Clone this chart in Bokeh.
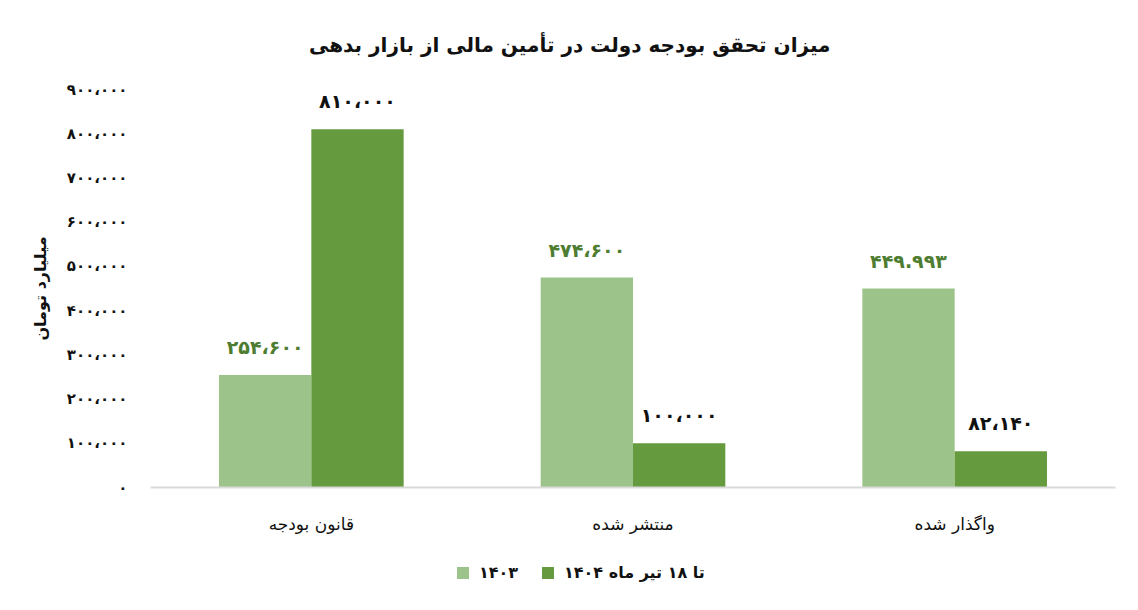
from bokeh.plotting import figure
from bokeh.layouts import column
from bokeh.models import ColumnDataSource, FactorRange, Legend, LegendItem, FixedTicker, Range1d, Title
from bokeh.transform import dodge
from bokeh.core.properties import value
from bokeh.embed import file_html
from bokeh.resources import INLINE

title_text = "میزان تحقق بودجه دولت در تأمین مالی از بازار بدهی"
y_axis_title = "میلیارد تومان"
categories = ["قانون بودجه", "منتشر شده", "واگذار شده"]
series_names = ["۱۴۰۳", "تا ۱۸ تیر ماه ۱۴۰۴"]
values_1403 = [254600, 474600, 449993]
values_1404 = [810000, 100000, 82140]
labels_1403 = ["۲۵۴،۶۰۰", "۴۷۴،۶۰۰", "۴۴۹.۹۹۳"]
labels_1404 = ["۸۱۰،۰۰۰", "۱۰۰،۰۰۰", "۸۲،۱۴۰"]
y_ticks = [0, 100000, 200000, 300000, 400000, 500000, 600000, 700000, 800000, 900000]
y_tick_labels = ["۰", "۱۰۰،۰۰۰", "۲۰۰،۰۰۰", "۳۰۰،۰۰۰", "۴۰۰،۰۰۰",
                 "۵۰۰،۰۰۰", "۶۰۰،۰۰۰", "۷۰۰،۰۰۰", "۸۰۰،۰۰۰", "۹۰۰،۰۰۰"]

FONT = "DejaVu Sans"
LIGHT = "#9cc389"
DARK = "#659a3e"
LIGHT_LABEL = "#4e7d32"

source = ColumnDataSource(data=dict(
    cat=categories,
    v1=values_1403,
    v2=values_1404,
    l1=labels_1403,
    l2=labels_1404,
))

p = figure(
    width=1130, height=550,
    x_range=FactorRange(*categories, range_padding=0),
    y_range=Range1d(0, 900000),
    output_backend="svg", toolbar_location=None,
    min_border_left=150, min_border_right=15, min_border_top=89, min_border_bottom=63,
)
p.outline_line_color = None
p.xgrid.grid_line_color = None
p.ygrid.grid_line_color = None

bw = 0.287
p.vbar(x=dodge("cat", -bw / 2, range=p.x_range), top="v1", width=bw, source=source,
       fill_color=LIGHT, line_color=None)
p.vbar(x=dodge("cat", bw / 2, range=p.x_range), top="v2", width=bw, source=source,
       fill_color=DARK, line_color=None)

p.text(x=dodge("cat", -bw / 2, range=p.x_range), y="v1", text="l1", source=source,
       text_align="center", text_baseline="middle", y_offset=-28,
       text_font=value(FONT), text_font_size="19px", text_font_style="bold",
       text_color=LIGHT_LABEL)
p.text(x=dodge("cat", bw / 2, range=p.x_range), y="v2", text="l2", source=source,
       text_align="center", text_baseline="middle", y_offset=-28,
       text_font=value(FONT), text_font_size="19px", text_font_style="bold",
       text_color="#111111")

# y axis
p.yaxis.ticker = FixedTicker(ticks=y_ticks)
p.yaxis.major_label_overrides = {t: s for t, s in zip(y_ticks, y_tick_labels)}
p.yaxis.axis_line_color = None
p.yaxis.major_tick_line_color = None
p.yaxis.minor_tick_line_color = None
p.yaxis.major_tick_out = 0
p.yaxis.major_label_standoff = 23
p.yaxis.major_label_text_font = FONT
p.yaxis.major_label_text_font_size = "15px"
p.yaxis.major_label_text_font_style = "bold"
p.yaxis.major_label_text_color = "#111111"
p.yaxis.axis_label = y_axis_title
p.yaxis.axis_label_text_font = FONT
p.yaxis.axis_label_text_font_size = "16px"
p.yaxis.axis_label_text_font_style = "bold"
p.yaxis.axis_label_text_color = "#111111"
p.yaxis.axis_label_standoff = 14

# x axis
p.xaxis.axis_line_color = "#d9d9d9"
p.xaxis.axis_line_width = 2
p.xaxis.major_tick_line_color = None
p.xaxis.minor_tick_line_color = None
p.xaxis.major_tick_out = 0
p.xaxis.major_label_standoff = 26
p.xaxis.major_label_text_font = FONT
p.xaxis.major_label_text_font_size = "17px"
p.xaxis.major_label_text_font_style = "normal"
p.xaxis.major_label_text_color = "#111111"

# title (right-aligned so its placement does not depend on its width)
p.add_layout(Title(text=title_text, align="right", offset=285, standoff=62,
                   vertical_align="top",
                   text_font=FONT, text_font_size="20px", text_font_style="bold",
                   text_color="#111111"), "above")

# legend strip below the chart
lg = figure(width=1130, height=55, x_range=Range1d(0, 1), y_range=Range1d(0, 1),
            output_backend="svg", toolbar_location=None,
            min_border_left=0, min_border_right=0, min_border_top=0, min_border_bottom=0)
lg.axis.visible = False
lg.grid.visible = False
lg.outline_line_color = None
key_src = ColumnDataSource(data=dict(x=[-10.0], top=[-10.0]))
k1 = lg.vbar(x="x", top="top", width=0.1, source=key_src, fill_color=LIGHT, line_color=None)
k2 = lg.vbar(x="x", top="top", width=0.1, source=key_src, fill_color=DARK, line_color=None)
legend = Legend(items=[LegendItem(label=series_names[0], renderers=[k1]),
                       LegendItem(label=series_names[1], renderers=[k2])],
                orientation="horizontal", location=(305, 23),
                padding=0, margin=0, spacing=22, label_standoff=9,
                glyph_width=15, glyph_height=15,
                border_line_color=None, background_fill_alpha=0,
                label_text_font=FONT, label_text_font_size="16px",
                label_text_font_style="bold", label_text_color="#111111")
lg.add_layout(legend, "center")

layout = column(p, lg, spacing=0)
open("out.html", "w").write(file_html(layout, INLINE))
